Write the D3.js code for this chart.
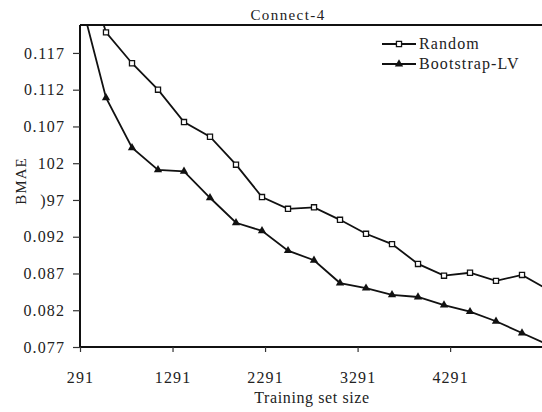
<!DOCTYPE html>
<html>
<head>
<meta charset="utf-8">
<script src="https://cdn.jsdelivr.net/npm/d3@7/dist/d3.min.js"></script>
<style>
  html, body { margin: 0; padding: 0; background: #fff; }
  svg { display: block; }
  svg text { font-family: "Liberation Serif", "DejaVu Serif", serif; fill: #222; }
</style>
</head>
<body>
<script>
// Connect-4: BMAE against training set size for two sampling strategies
const trainingSizes = [291, 572, 853, 1134, 1415, 1696, 1977, 2258, 2539, 2820, 3101, 3382, 3663, 3944, 4225, 4506, 4787, 5068, 5349];
const randomBMAE    = [0.1313, 0.1198, 0.1156, 0.1120, 0.1076, 0.1056, 0.1018, 0.0974, 0.0958, 0.0960, 0.0943, 0.0924, 0.0910, 0.0883, 0.0867, 0.0871, 0.0860, 0.0868, 0.0848];
const bootstrapBMAE = [0.1246, 0.1109, 0.1041, 0.1011, 0.1009, 0.0973, 0.0939, 0.0928, 0.0901, 0.0888, 0.0857, 0.0850, 0.0841, 0.0838, 0.0827, 0.0818, 0.0805, 0.0789, 0.0773];

const xTickValues = [291, 1291, 2291, 3291, 4291];
const yTickValues = [0.077, 0.082, 0.087, 0.092, 0.097, 0.102, 0.107, 0.112, 0.117];
const yTickLabels = ["0.077", "0.082", "0.087", "0.092", ")97", "102", "0.107", "0.112", "0.117"];

const seriesNames = ["Random", "Bootstrap-LV"];

const W = 542, H = 412;
const plot = { left: 80, right: 542, top: 25, bottom: 347 };
const serif = "'Liberation Serif', 'DejaVu Serif', serif";

const svg = d3.select("body").append("svg").attr("width", W).attr("height", H);

const x = d3.scaleLinear().domain([291, 5284]).range([plot.left, plot.right]);
const y = d3.scaleLinear().domain([0.077, 0.1208]).range([plot.bottom, plot.top]);

svg.append("defs").append("clipPath").attr("id", "plotClip")
  .append("rect")
  .attr("x", plot.left).attr("y", plot.top)
  .attr("width", plot.right - plot.left).attr("height", plot.bottom - plot.top);

// title
svg.append("text")
  .attr("x", 288).attr("y", 20)
  .attr("text-anchor", "middle")
  .style("font-family", serif)
  .style("font-size", "15px").style("letter-spacing", "1.4px")
  .text("Connect-4");

// top frame line
svg.append("line")
  .attr("x1", plot.left).attr("x2", plot.right)
  .attr("y1", plot.top).attr("y2", plot.top)
  .attr("stroke", "#111").attr("stroke-width", 2);

// y axis
const yAxis = d3.axisLeft(y)
  .tickValues(yTickValues)
  .tickSize(7)
  .tickPadding(8)
  .tickFormat((d, i) => yTickLabels[i]);
const gy = svg.append("g").attr("transform", `translate(${plot.left},0)`).call(yAxis);
gy.select(".domain").attr("stroke", "#111").attr("stroke-width", 2)
  .attr("d", `M0,${plot.top}V${plot.bottom}`);
gy.selectAll(".tick line").attr("stroke", "#333").attr("stroke-width", 1.2);
gy.selectAll(".tick text")
  .style("font-family", serif)
  .style("font-size", "16px").style("letter-spacing", "1.1px")
  .attr("fill", "#222");

// x axis
const xAxis = d3.axisBottom(x)
  .tickValues(xTickValues)
  .tickSize(5)
  .tickPadding(20)
  .tickFormat(d3.format("d"));
const gx = svg.append("g").attr("transform", `translate(0,${plot.bottom})`).call(xAxis);
gx.select(".domain").attr("stroke", "#111").attr("stroke-width", 2)
  .attr("d", `M${plot.left},0H${plot.right}`);
gx.selectAll(".tick line").attr("stroke", "#333").attr("stroke-width", 1.2);
gx.selectAll(".tick text")
  .style("font-family", serif)
  .style("font-size", "16px").style("letter-spacing", "1.1px")
  .attr("fill", "#222");

// axis titles
svg.append("text")
  .attr("x", 312).attr("y", 403)
  .attr("text-anchor", "middle")
  .style("font-family", serif)
  .style("font-size", "16px").style("letter-spacing", "0.6px")
  .text("Training set size");

svg.append("text")
  .attr("transform", "translate(26,181) rotate(-90)")
  .attr("text-anchor", "middle")
  .style("font-family", serif)
  .style("font-size", "15px").style("letter-spacing", "1px")
  .text("BMAE");

// series
const line = d3.line().x(d => x(d[0])).y(d => y(d[1]));
const randomPts = trainingSizes.map((s, i) => [s, randomBMAE[i]]);
const bootPts = trainingSizes.map((s, i) => [s, bootstrapBMAE[i]]);

const plotG = svg.append("g").attr("clip-path", "url(#plotClip)");

plotG.append("path").datum(randomPts)
  .attr("d", line).attr("fill", "none")
  .attr("stroke", "#111").attr("stroke-width", 1.8);
plotG.append("path").datum(bootPts)
  .attr("d", line).attr("fill", "none")
  .attr("stroke", "#111").attr("stroke-width", 1.8);

const square = d3.symbol().type(d3.symbolSquare).size(26);
const triangle = d3.symbol().type(d3.symbolTriangle).size(30);

plotG.selectAll(".rnd").data(randomPts).enter().append("path")
  .attr("class", "rnd")
  .attr("transform", d => `translate(${x(d[0])},${y(d[1])})`)
  .attr("d", square)
  .attr("fill", "#fff").attr("stroke", "#111").attr("stroke-width", 1.3);

plotG.selectAll(".bst").data(bootPts).enter().append("path")
  .attr("class", "bst")
  .attr("transform", d => `translate(${x(d[0])},${y(d[1])})`)
  .attr("d", triangle)
  .attr("fill", "#111");

// legend
const legend = svg.append("g");
const legendRows = [
  { name: seriesNames[0], y: 44, sym: square, fill: "#fff" },
  { name: seriesNames[1], y: 64, sym: triangle, fill: "#111" }
];
legendRows.forEach(r => {
  legend.append("line")
    .attr("x1", 382).attr("x2", 416).attr("y1", r.y).attr("y2", r.y)
    .attr("stroke", "#111").attr("stroke-width", 1.8);
  legend.append("path")
    .attr("transform", `translate(399,${r.y})`)
    .attr("d", r.sym)
    .attr("fill", r.fill).attr("stroke", "#111").attr("stroke-width", r.fill === "#fff" ? 1.3 : 0);
  legend.append("text")
    .attr("x", 419).attr("y", r.y + 5)
    .style("font-family", serif)
    .style("font-size", "16px").style("letter-spacing", "1.1px")
    .text(r.name);
});
</script>
</body>
</html>
